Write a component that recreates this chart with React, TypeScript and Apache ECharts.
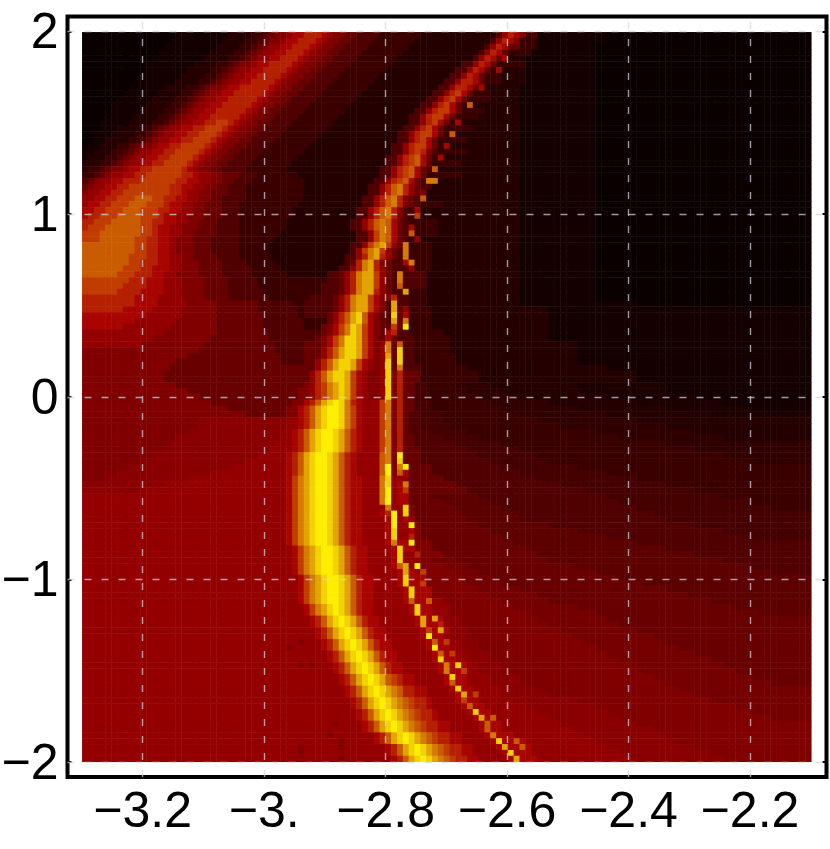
import React, { useEffect, useRef } from "react";
import * as echarts from "echarts";

const xTicks = [-3.2, -3, -2.8, -2.6, -2.4, -2.2];
const xTickLabels = ["−3.2", "−3.", "−2.8", "−2.6", "−2.4", "−2.2"];
const yTicks = [-2, -1, 0, 1, 2];
const yTickLabels = ["−2", "−1", "0", "1", "2"];

// colour of each level a..p
const levelColors = ["#0a0000", "#140000", "#250000", "#3a0000", "#500000", "#680000", "#800000", "#940000", "#a80400", "#b42000", "#c03c00", "#c95c00", "#d47c00", "#e2a400", "#f2d200", "#ffee00"];

// Each row (top to bottom): level + first column of that run.
// Lower case a..p are whole levels, upper case A..G lie halfway between a/b ... g/h.
const heatRows = [
"a0 b16 c25 d29 e31 f32 g33 h35 i36 j38 i41 h42 g43 f45 e47 d51 c58 e71 h72 j73 i74 g75 d76 e77 b78 a90",
"a0 b15 c24 d28 e30 f31 g32 h34 i35 j37 i40 h41 g42 f44 e46 d50 c57 e70 h71 j72 i73 g74 d75 b78 a90",
"a0 b14 c23 d27 e29 f30 g31 h32 i34 j36 i39 h40 g41 f43 e45 d49 c56 e69 h70 j71 i72 f73 d75 b78 a88",
"a0 b13 c22 d26 e28 f29 g30 h31 i33 j35 i38 h39 g40 f42 e44 d48 c55 e68 h69 j70 i71 f72 d73 b77 a88",
"a0 b12 c21 d25 e27 f28 g29 h30 i32 j34 i37 h38 g39 f41 e43 d47 c54 e67 h68 j69 i70 f71 i72 c73 b76 a88",
"a0 b11 c19 d23 e25 f26 g27 h29 i30 j32 i36 h37 g38 f40 e42 d46 c53 e65 h67 j68 i69 f70 d71 b76 a88",
"a0 b11 c18 d22 e24 f25 g26 h27 i29 j31 i35 h36 g37 f39 e41 d45 c52 e64 h66 j67 i68 f69 d70 i71 c72 b76 a88",
"a0 b10 c17 d21 e23 f24 g25 h26 i28 j30 i34 h35 g36 f38 e40 d44 c51 e63 h65 j66 i67 f68 d69 c72 b76 a88",
"a0 b9 c16 d20 e22 f23 g24 h25 i27 j29 i33 h34 g35 f37 e39 d43 c50 e62 h64 j65 i67 f68 d69 c72 b76 a88",
"a0 b8 c14 d18 e20 f21 g22 h24 i25 j27 i32 h33 g34 f36 e38 d42 c49 e61 h63 j64 i66 f67 i68 c69 b75 a88",
"a0 b7 c13 d17 e19 f20 g21 h22 i24 j26 i31 h32 g33 f35 e37 d41 c48 e60 h62 j63 k64 i65 f66 d67 c70 b75 a88",
"a0 b6 c12 d16 e18 f19 g20 h21 i23 j25 i30 h31 g32 f34 e36 d40 c47 e59 h61 j62 k63 i64 f65 d66 c70 b75 a88",
"a0 b5 c11 d15 e17 f18 g19 h20 i22 j24 i29 h30 g31 f33 e35 d39 c46 e58 h60 j61 k62 i63 f64 d65 l66 c67 b75 a88",
"a0 b5 c10 d14 e16 f17 g18 h19 i21 j23 i28 h29 g30 f32 e34 d38 c45 e57 h59 j60 k61 i63 f64 d65 c69 b75 a88",
"a0 b4 c9 d13 e15 f16 g17 h18 i20 j22 i27 h28 g29 f31 e33 d37 c44 e56 h58 j59 k60 i62 f63 d64 c68 b75 a88",
"a0 b3 c8 d12 e14 f15 g16 h17 i19 j21 k23 j25 i26 h27 g28 f30 e32 d36 c43 e56 h58 j59 k60 i61 f62 d63 i64 c65 b75 a88",
"a0 b3 c6 d10 e12 f13 g14 h15 i17 j19 k21 j24 i25 h26 g27 f29 e31 d35 c42 e55 h57 j58 k59 i60 f61 d62 c67 b75 a88",
"a0 b2 c5 d9 e11 f12 g13 h14 i16 j18 k20 j23 i24 h25 g26 f28 e30 d34 c41 e54 h56 j57 k58 i60 f61 d62 l63 c64 b75 a88",
"a0 b2 c4 d8 e10 f11 g12 h13 i15 j17 k19 j22 i23 h24 g25 f27 e29 d33 c40 e54 h56 j57 k58 i59 f60 d61 c66 b75 a88",
"a0 b1 c3 d6 e8 f9 g10 h12 i13 j15 k17 j21 i22 h23 g24 f26 e28 d32 c39 e53 h55 j56 k57 i59 f60 d61 i62 c63 b75 a88",
"b0 c2 d5 e7 f8 g9 h10 i12 j14 k16 j20 i21 h22 g23 f25 e27 d31 c38 e53 h55 j56 k57 j58 g59 e60 d61 c66 b75 a88",
"b0 c1 d4 e6 f7 g8 h9 i11 j13 k15 j19 i20 h21 g22 f24 e26 d30 c37 e52 h54 j55 k56 l57 i58 f59 d60 i61 c62 b75 a88",
"c0 d3 e5 f6 g7 h8 i10 j12 k14 j18 i19 h20 g21 f23 e25 d29 c36 e52 h54 j55 k56 l57 i58 f59 d60 c65 b75 a88",
"c0 d1 e3 f4 g5 h7 i8 j10 k12 j17 i18 h19 g20 f22 e24 d28 c35 e51 h53 j54 k55 l56 i57 f58 e59 l60 c61 b75 a88",
"d0 e2 f3 g4 h5 i7 j9 k11 j17 i19 h20 g22 f24 e27 d30 c37 e51 h53 j54 k55 l56 i57 f58 d59 c65 b75 a88",
"e0 f1 g2 h3 i5 j7 k10 j16 i18 h20 g22 f24 e26 d29 c38 e50 h52 j53 k54 l55 i56 f57 e58 m59 c61 b75 a88",
"f0 g1 h2 i4 j6 k8 j15 i17 h19 g21 f23 e25 d28 c38 e49 h51 j52 l53 m54 j55 h56 f57 e58 c60 b75 a88",
"g0 h1 i3 j5 k7 j15 i17 h18 g20 f22 e25 d28 c38 e49 h51 j52 l53 m54 j55 h56 f57 g58 c59 b75 a88",
"h0 i2 j4 k6 l9 k12 j14 i16 h18 g20 f22 e24 d28 c38 e48 h50 j51 l52 m53 j54 g55 f56 e57 l58 c59 b75 a88",
"h0 i1 j3 k5 l8 k11 j14 i15 h17 g19 f21 e24 d27 c37 e48 h50 j51 l52 m53 j54 g55 f56 e57 d58 c62 b75 a88",
"i0 j2 k4 l7 k10 j13 i15 h17 g19 f21 e24 d27 c36 e47 h49 j50 l51 m52 j53 g54 e55 d56 i57 c58 b75 a88",
"i0 j1 k3 l6 k10 j13 i14 h16 g18 f21 e24 d27 c36 e47 h49 j50 l51 m52 j53 g54 e55 d56 k57 c58 b75 a88",
"j0 k2 l5 k10 j12 i14 h16 g18 f20 e23 d27 c35 e46 h48 j49 l50 m51 l52 i53 f54 e55 d56 c61 b75 a88",
"j0 k1 l4 k10 j12 i13 h15 g17 f20 e23 d27 c35 e46 h48 j49 l50 m51 l52 i53 f54 e55 i56 d57 c61 b75 a88",
"k0 l3 k10 j12 i13 h15 g17 f19 e23 d27 c34 e47 h49 k50 m51 l52 i53 f54 e55 l56 d57 c61 b75 a88",
"k0 l3 k9 j11 i13 h15 g16 f19 e22 d27 c33 e47 h49 k50 m51 l52 i53 f54 e55 d56 h57 c58 b75 a88",
"l0 k9 j11 i13 h15 g16 f19 e22 d27 c32 e46 h48 k49 m50 n51 k52 h53 f54 m55 d56 c60 b75 a88",
"l0 k9 j11 i13 h15 g16 f19 e22 d27 c32 e46 h47 k48 m49 n50 k51 h52 f53 e54 m55 d56 c60 b75 a88",
"l0 k8 j11 i13 h15 g17 f19 e23 d27 c32 e45 h47 j48 m49 n50 j51 h52 f53 e54 m55 d56 c60 b75 a88",
"l0 k8 j10 i13 h15 g17 f20 e24 d28 c33 e45 f46 j47 m48 n49 j50 g51 f52 e53 i55 m56 d57 c60 b75 a88",
"l0 k7 j10 i12 h15 g17 f20 e24 d29 c34 e44 h46 j47 m48 n49 j50 h51 f52 e53 h56 d57 c60 b75 a88",
"l0 k6 j9 i12 h14 g16 f20 e24 d29 c35 e42 f44 h45 j46 m47 n48 k50 h51 f52 e53 m54 e55 c59 b75 a88",
"k0 j8 i11 h14 g17 f21 e25 d30 e42 f44 h45 j46 m47 n48 k50 h51 f52 e53 m54 e55 c59 b75 a88",
"k0 j7 i11 h14 g17 f21 e25 d30 e41 f44 h45 j46 m47 n48 k50 h51 f52 e53 l54 e55 c59 b75 a88",
"k0 j6 i10 h14 g17 f21 e25 d31 e41 f44 h45 j46 m47 n48 j50 h51 f52 e53 n55 d56 c59 b75 a88",
"j0 i9 h13 g17 f21 e25 d32 e39 f43 h44 j45 m46 n47 k49 i50 g51 j53 e54 d56 c59 b75 a88",
"j0 i9 h13 g18 f23 e30 d36 e38 f43 h44 j45 m46 n47 k49 i50 g51 e52 n53 e54 d56 c59 b75 a95",
"j0 i7 h12 g17 f23 e30 d37 e38 f43 h44 j45 m46 n47 k49 i50 g51 e52 n53 f54 h55 d56 c60 b80",
"i0 h11 g17 f23 e31 d37 e38 f42 h43 j44 l45 n46 o47 l48 i49 g50 f51 e52 o53 f54 i55 d56 c60 b80",
"i0 h9 g16 f23 e31 d38 f42 h43 j44 l45 n46 o47 l48 i49 g50 f51 e52 n53 f54 m55 d56 c60 b80",
"i0 h7 g15 f23 e31 d38 f41 g42 i43 k44 m45 o46 n47 k48 i49 g50 f51 k53 f54 p55 d56 c60 b80",
"h0 g14 f23 e32 f41 g42 i43 k44 m45 o46 n47 k48 i49 g50 f51 i52 j53 e54 d56 c62 b80",
"h0 g12 f22 e32 f40 g41 i42 k43 m44 o45 n47 k48 i49 g50 f51 i52 f53 e54 d57 c63 b80",
"h0 g10 f21 e33 f38 g41 i42 k43 m44 o45 n47 k48 i49 g50 h51 m52 f53 l54 e55 d57 c63 b85",
"g0 f20 e33 f38 h41 j42 l43 n44 o45 n47 k48 i49 g50 h51 m52 f53 o54 e55 d57 c63 b85",
"g0 f18 e34 f38 h41 j42 l43 n44 o45 n47 k48 i49 g50 h51 n52 f53 o54 e55 d57 c64 b85",
"g0 f16 e34 f38 h40 j41 l42 n43 o44 n46 k47 i48 h49 g50 h51 o52 f53 o54 e55 d57 c64 b85",
"g0 f15 f37 h40 j41 l42 n43 o44 n46 k47 i48 h49 g50 h51 o52 f53 m54 e55 d58 c66 b90",
"g0 f14 h39 j40 l41 n42 o43 n45 k46 i47 h48 g49 h51 o52 g53 j54 f55 d58 c68 b95",
"g0 f14 h39 j40 l41 n42 o43 n45 k46 i47 h48 g49 h51 o52 g53 j54 f55 d58 c68 b95",
"g0 f16 g38 h39 j40 k41 m42 n43 o44 n45 k46 i47 h48 g49 h51 o52 g53 j54 f55 D57 d59 C64 c70 B85 b100",
"g0 f18 g37 h39 j40 k41 m42 n43 o44 n45 k46 i47 h48 g49 h51 o52 g53 j54 f55 D57 d59 C66 c72 B86 b100",
"g0 f20 g37 h39 j40 k41 m42 n43 o44 n45 k46 i47 h48 g49 h51 o52 g53 j54 f55 D57 d59 C68 c75 B90 b105",
"g0 f22 g36 i38 j39 l40 n41 o42 p43 o44 m45 j46 i47 h48 k51 m52 g53 j54 f55 D57 d60 C70 c80 B95 b110",
"g0 f25 g35 i37 j38 l39 n40 o41 p42 o44 m45 k46 i47 h48 k51 m52 g53 j54 f55 D57 d60 C72 c85 B100 b115",
"g0 f28 g35 i37 j38 l39 n40 o41 p42 o44 m45 k46 i47 h48 k51 m52 g53 j54 f55 e56 D58 d62 C75 c90 B108",
"g0 G20 h35 i37 j38 l39 n40 o41 p42 o44 m45 k46 i47 h48 k51 m52 g53 j54 f55 e56 D58 d62 C78 c95",
"g0 G20 h35 i37 j38 l39 n40 o41 p42 o44 m45 k46 i47 h48 k51 m52 g53 j54 f55 e56 D58 d63 C82 c100",
"g0 G18 h34 i36 j37 l38 n39 o40 p41 o43 n44 l45 j46 i47 h48 k51 m52 g53 j54 f55 e56 D60 d66 C88 c105",
"g0 G16 h34 i36 j37 l38 n39 o40 p41 o43 n44 l45 j46 i47 h48 k51 m52 g53 j54 f55 e57 D62 d68 C92 c110",
"g0 G15 h33 i36 j37 l38 n39 o40 p41 o43 n44 l45 j46 i47 h48 k51 m52 g53 j54 f55 e57 D64 d72 C100",
"g0 G14 h32 i36 j37 l38 n39 o40 p41 o43 n44 l45 j46 i47 h48 k51 m52 g53 j54 f55 e58 D66 d75 C105",
"g0 G12 h30 i35 j36 l37 n38 o39 p40 o42 n43 l44 j45 i46 h47 l51 m52 g53 p54 f55 e58 D68 d78 C110",
"g0 G10 h28 i35 j36 l37 n38 o39 p40 o42 n43 l44 j45 i46 h47 l51 m52 g53 o54 f55 e58 D70 d80 C115",
"g0 G8 h26 i35 j36 l37 n38 o39 p40 o42 n43 l44 j45 i46 h47 l51 p52 g53 m54 p55 f56 e60 D72 d85",
"g0 G6 h22 i35 j36 l37 n38 o39 p40 o42 n43 l44 j45 i46 h47 l51 p52 g53 l54 i55 f56 e60 D75 d90",
"g0 G4 h18 i35 k36 m37 n38 o39 p40 o42 n43 l44 j45 i46 h48 m51 o52 h53 f56 e62 D78 d95",
"G0 h14 i35 k36 m37 n38 o39 p40 o42 n43 l44 j45 i46 h48 m51 o52 h53 i54 m55 f56 e64 D82 d100",
"G0 h10 i35 k36 m37 n38 o39 p40 o42 n43 l44 j45 i46 h48 m51 p52 h53 i54 k55 f56 e66 D86 d105",
"h0 i35 k36 m37 n38 o39 p40 o42 n43 l44 j45 i46 h48 m51 p52 h53 i54 f56 E60 e68 D90 d110",
"h0 i35 k36 m37 n38 o39 p40 o42 n43 l44 j45 i46 h48 m51 p52 h53 i54 f56 E62 e70 D92 d115",
"h0 i35 k36 m37 n38 o39 p40 o42 n43 l44 j45 i46 h48 m52 h53 o55 g56 f57 E64 e72 D95 d118",
"h0 i35 k36 m37 n38 o39 p40 o42 n43 l44 j45 i46 h48 i51 j52 p53 h54 o55 g56 f57 E65 e75 D98",
"h0 i35 k36 m37 n38 o39 p40 o42 n43 l44 j45 i46 h48 i52 p53 h54 i55 h56 f57 E66 e75 D100",
"h0 i35 k36 m37 n38 o39 p40 o42 n43 l44 j45 i46 h48 i52 p53 h54 p56 g57 f58 E68 e80 D105",
"h0 i35 k36 m37 n38 o39 p40 o42 n43 l44 j45 i46 h48 i52 o53 h54 i56 g57 f58 E70 e85 D110",
"h0 i35 k36 m37 n38 o39 p40 o42 n43 l44 j45 i46 h48 i52 o53 h54 j56 g57 f58 E72 e90 D115",
"h0 i35 k36 m37 n38 o39 p40 o42 n43 l44 j45 i46 h48 i52 m53 i54 p56 g57 f60 E74 e95",
"h0 i36 k37 m38 n39 o40 p41 o43 n44 l45 j46 i47 h49 i53 o54 i55 g57 f60 E76 e100",
"h0 i36 k37 m38 n39 o40 p41 o43 n44 l45 j46 i47 h49 i53 o54 h55 j57 g58 f62 E78 e105",
"h0 i36 k37 m38 n39 o40 p41 o43 n44 l45 j46 i47 h49 i53 o54 h55 g58 F60 f64 E80 e110",
"h0 i36 k37 m38 n39 o40 p41 o43 n44 l45 j46 i47 h49 i53 l54 n55 h56 p57 g58 F62 f66 E84 e115",
"h0 i36 k37 m38 n39 o40 p41 o43 n44 l45 j46 i47 h49 i54 n55 i56 h57 k58 g59 F64 f68 E88 e118",
"h0 i37 k38 m39 n40 o41 p42 o44 n45 l46 j47 i48 h50 i54 o55 i56 g59 F65 f70 E92",
"h0 i37 k38 m39 n40 o41 p42 o44 n45 l46 j47 i48 h50 i54 o55 i56 k58 g59 F66 f72 E96",
"h0 i37 k38 m39 n40 o41 p42 o44 n45 l46 j47 i48 h50 i55 o56 i57 g60 F68 f75 E100",
"h0 i37 k38 m39 n40 o41 p42 o44 n45 l46 j47 i48 h50 i55 o56 i57 g60 F70 f78 E104",
"h0 i37 k38 m39 n40 o41 p42 o44 n45 l46 j47 i48 h50 i55 l56 i57 l59 h60 g62 F72 f80 E108",
"h0 i38 k39 m40 n41 o42 p43 o44 n45 l46 j47 i48 h50 i56 o57 i58 h60 g63 F74 f85 E112",
"h0 i38 k39 m40 n41 o42 p43 o44 n45 l46 j47 i48 h50 i56 o57 i58 h60 g63 F76 f88 E116",
"h0 i39 j40 l41 n42 o43 p44 o45 n46 l47 j48 i49 h51 i57 n58 i59 n60 i61 G62 g65 F78 f90",
"h0 i39 j40 l41 n42 o43 p44 o45 n46 l47 j48 i49 h51 i57 n58 i59 j61 h62 G63 g65 F80 f92",
"h0 i40 j41 l42 n43 o44 p45 o46 n47 l48 j49 i50 h52 i58 k59 i60 n61 i62 G63 g66 F82 f95",
"h0 i40 j41 l42 n43 o44 p45 o46 n47 l48 j49 i50 h52 i58 p59 i60 h62 G63 g66 F84 f98",
"h0 g37 h38 i41 j42 l43 n44 o45 p46 o47 n48 l49 j50 i51 h53 i59 l60 i61 k62 h63 G65 g68 F86 f100",
"h0 g35 h36 i41 j42 l43 n44 o45 p46 o47 n48 l49 j50 i51 h53 i59 p60 i61 h63 G65 g68 F88 f102",
"h0 i42 j43 l44 n45 o46 p47 o48 n49 l50 j51 i52 h54 i60 l61 i62 k63 h64 G66 g70 F90 f105",
"h0 i42 j43 l44 n45 o46 p47 o48 n49 l50 j51 i52 h54 i60 o61 i62 h64 G66 g70 F92 f108",
"h0 g37 h38 g39 h40 i43 j44 l45 n46 o47 p48 o49 n50 l51 j52 i53 h55 i61 m62 i63 o64 i65 h66 G68 g72 F94 f110",
"h0 i43 j44 l45 n46 o47 p48 o49 n50 l51 j52 i53 h55 i61 m62 i63 k65 h66 G68 g72 F96 f112",
"h0 i44 j45 l46 n47 o48 p49 o50 n51 l52 k53 j54 i55 h57 i62 o63 i64 h66 G70 g75 F98 f115",
"h0 i44 j45 l46 n47 o48 p49 o50 n51 l52 k53 j54 i55 h57 i62 l63 i64 h66 G70 g75 F100 f118",
"h0 i45 j46 l47 n48 o49 p50 o51 n52 m53 l54 j55 i57 h59 i63 o64 i65 h67 G72 g78 F102",
"h0 i45 j46 l47 n48 o49 p50 o51 n52 m53 l54 j55 i57 h59 i64 n65 i66 k67 h68 G72 g80 F105",
"h0 i46 j47 l48 n49 o50 p51 o52 n53 m54 l55 k56 j57 i59 h60 i64 k65 i66 h68 G74 g85 F108",
"h0 i46 j47 l48 n49 o50 p51 o52 n53 m54 l55 k56 j57 i59 h60 i65 l66 i67 h69 G76 g88 F112",
"h0 i47 j48 l49 n50 o51 p52 o53 n54 m55 l56 k57 j58 i60 h61 i66 o67 i68 h70 G78 g90 F115",
"h0 i47 j48 l49 n50 o51 p52 o53 n54 m55 l56 k57 j58 i60 h61 i67 n68 i69 l70 h71 G80 g92 F118",
"h0 g43 h44 i48 j49 l50 n51 o52 p53 o54 n55 m56 l57 k58 j59 i61 h63 i68 l69 i70 h72 G82 g95",
"h0 i48 j49 l50 n51 o52 p53 o54 n55 m56 l57 k58 j59 i61 h63 i68 l69 i70 h72 G84 g98",
"h0 g42 h43 i50 j51 l52 n53 o54 p55 o56 n57 m58 l59 k60 j61 i63 h65 i69 m70 i71 h74 G86 g100",
"h0 g44 h45 i50 j51 l52 n53 o54 p55 o56 n57 m58 l59 k60 j61 i63 h65 i70 o71 i72 l74 i75 h76 G88 g102",
"h0 g37 h38 g44 h45 i52 j53 l54 n55 o56 p57 o58 n59 m60 l61 k62 j63 i65 h67 i71 n72 i73 l75 i76 h77 G90 g105",
"h0 g37 h38 i52 j53 l54 n55 o56 p57 o58 n59 m60 l61 k62 j63 i65 h67 i72 o73 i74 h77 G92 g108",
"h0 g44 h45 i53 j54 l55 n56 o57 p58 o59 n60 m61 l62 k63 j64 i66 h68 i73 n74 i75 h78 G94 g110",
];

const COLS = 125;

function levelOf(ch: string): number {
  const code = ch.charCodeAt(0);
  return code >= 97 ? code - 97 : code - 65 + 0.5;
}

function buildCells(): number[][] {
  const cells: number[][] = [];
  heatRows.forEach((row, r) => {
    const runs = [...row.matchAll(/([a-pA-G])(\d+)/g)].map((m) => ({
      level: levelOf(m[1]),
      start: Number(m[2]),
    }));
    runs.forEach((run, i) => {
      const end = i + 1 < runs.length ? runs[i + 1].start : COLS;
      for (let c = run.start; c < end; c++) cells.push([c, r, run.level]);
    });
  });
  return cells;
}

const labelFont = { fontFamily: "Liberation Sans", fontSize: 50, color: "#000" };
const blankAxis = { show: false };

export default function App() {
  const ref = useRef<HTMLDivElement>(null);
  useEffect(() => {
    document.body.style.margin = "0";
    const chart = echarts.init(ref.current!, undefined, { renderer: "svg" });
    const colCats = Array.from({ length: COLS }, (_, i) => String(i));
    const rowCats = heatRows.map((_, i) => String(i));
    const xRange = { min: -3.3238, max: -2.074 };
    const yRange = { min: -2.082, max: 2.082 };
    const tick = { show: true, inside: true, length: 4, lineStyle: { color: "#000", width: 2 } };
    chart.setOption({
      animation: false,
      backgroundColor: "#fff",
      grid: [
        { left: 82.3, top: 32.3, width: 729, height: 729.5, outerBoundsMode: "none" },
        { left: 67.5, top: 16.5, width: 759, height: 760.5, outerBoundsMode: "none", show: true, backgroundColor: "transparent", borderColor: "#000", borderWidth: 4 },
      ],
      xAxis: [
        { type: "category", gridIndex: 0, data: colCats, ...blankAxis },
        {
          type: "value", gridIndex: 1, position: "bottom", ...xRange,
          axisLine: { show: false }, splitLine: { show: false },
          axisTick: { ...tick, customValues: xTicks },
          axisLabel: {
            ...labelFont, margin: 8, customValues: xTicks,
            formatter: (v: number) => xTickLabels[xTicks.findIndex((t) => Math.abs(t - v) < 1e-6)] ?? "",
          },
        },
        {
          type: "value", gridIndex: 1, position: "top", ...xRange,
          axisLine: { show: false }, splitLine: { show: false }, axisLabel: { show: false },
          axisTick: { ...tick, customValues: xTicks },
        },
      ],
      yAxis: [
        { type: "category", gridIndex: 0, inverse: true, data: rowCats, ...blankAxis },
        {
          type: "value", gridIndex: 1, position: "left", ...yRange,
          axisLine: { show: false }, splitLine: { show: false },
          axisTick: { ...tick, customValues: yTicks },
          axisLabel: {
            ...labelFont, margin: 9, customValues: yTicks,
            formatter: (v: number) => yTickLabels[yTicks.findIndex((t) => Math.abs(t - v) < 1e-6)] ?? "",
          },
        },
        {
          type: "value", gridIndex: 1, position: "right", ...yRange,
          axisLine: { show: false }, splitLine: { show: false }, axisLabel: { show: false },
          axisTick: { ...tick, customValues: yTicks },
        },
      ],
      visualMap: {
        show: false, type: "continuous", seriesIndex: 0, dimension: 2,
        min: 0, max: levelColors.length - 1, inRange: { color: levelColors },
      },
      series: [
        {
          type: "heatmap", xAxisIndex: 0, yAxisIndex: 0, data: buildCells(),
          progressive: 0, emphasis: { disabled: true }, itemStyle: { borderWidth: 0 }, z: 1,
        },
        {
          type: "line", xAxisIndex: 1, yAxisIndex: 1, data: [], z: 5, silent: true,
          markLine: {
            silent: true, symbol: "none", label: { show: false }, animation: false,
            lineStyle: { color: "rgba(212,212,232,0.72)", width: 1.4, type: [7, 10] },
            data: [
              ...xTicks.map((v) => ({ xAxis: v })),
              ...yTicks.map((v) => ({ yAxis: v })),
            ],
          },
        },
      ],
    });
    return () => chart.dispose();
  }, []);
  return <div ref={ref} style={{ position: "absolute", left: 0, top: 0, width: 830, height: 849 }} />;
}
